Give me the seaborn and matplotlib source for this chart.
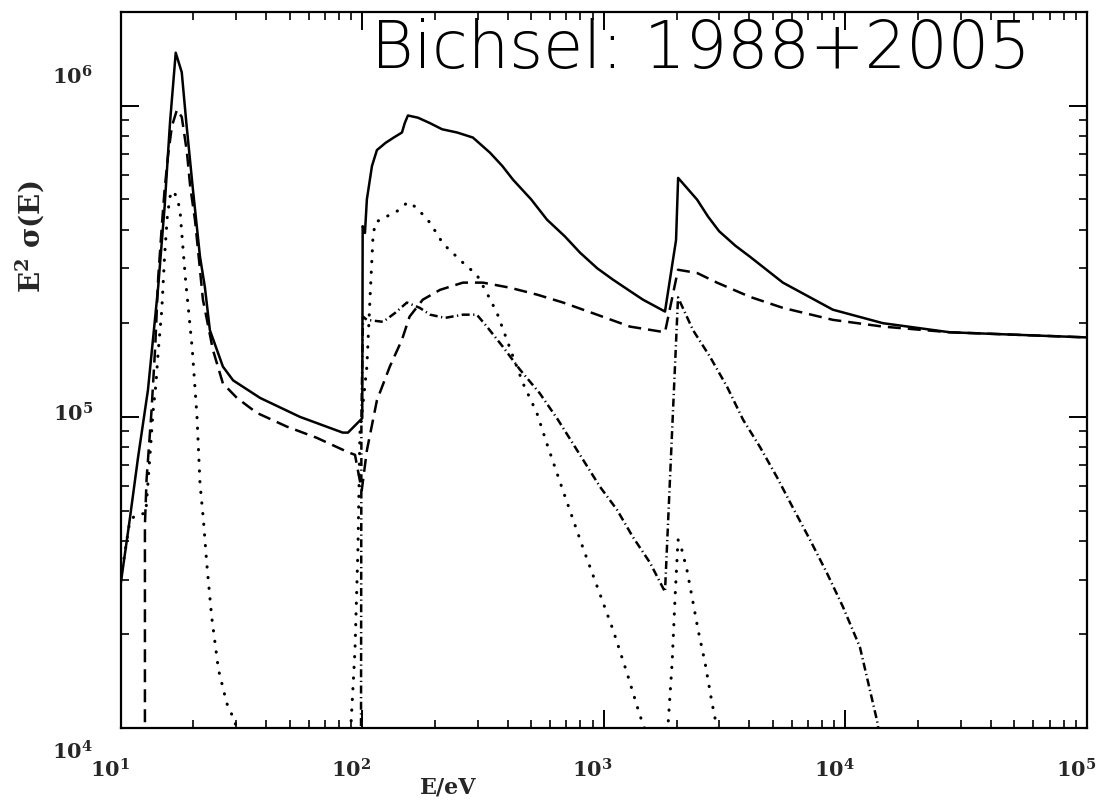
import numpy as np
import pandas as pd
import matplotlib
matplotlib.use('Agg')
import matplotlib.pyplot as plt
import seaborn as sns

# ---- data (E in eV, E^2 sigma(E) arbitrary units) ----
total_e = [10, 10.9, 11.8, 12.97, 14.3, 15.2, 16.0, 16.9, 17.9, 18.7, 19.9, 21.3, 22.3, 23.4,
           26.5, 29.2, 37.8, 55.2, 83, 87.3, 100, 100.4, 102.6, 104.5, 109.7, 115, 125, 135,
           146, 150, 154.5, 170, 190, 214, 247, 287, 338, 380, 421, 500, 582, 690, 797, 940,
           1091, 1270, 1452, 1791, 1990, 2030, 2432, 2700, 3000, 3500, 4027, 5510, 8870,
           14290, 27000, 100000]
total_y = [2.9e4, 4.67e4, 7.4e4, 1.22e5, 2.62e5, 4.73e5, 8.8e5, 1.48e6, 1.28e6, 8.8e5, 5.4e5,
           3.27e5, 2.62e5, 1.9e5, 1.45e5, 1.31e5, 1.15e5, 1.0e5, 8.9e4, 8.9e4, 9.9e4, 4.1e5,
           3.9e5, 5.0e5, 6.4e5, 7.2e5, 7.6e5, 7.9e5, 8.2e5, 8.8e5, 9.3e5, 9.15e5, 8.8e5,
           8.4e5, 8.2e5, 7.9e5, 7.06e5, 6.4e5, 5.78e5, 5.0e5, 4.3e5, 3.8e5, 3.37e5, 3.0e5,
           2.76e5, 2.55e5, 2.38e5, 2.18e5, 3.7e5, 5.86e5, 4.99e5, 4.4e5, 3.95e5, 3.55e5,
           3.27e5, 2.7e5, 2.21e5, 2.0e5, 1.87e5, 1.8e5]

dashed_e = [12.6, 12.6, 12.8, 13.4, 13.9, 14.3, 14.8, 15.2, 15.7, 16.3, 17.1, 17.9, 18.8, 19.4,
            20.3, 21.3, 21.9, 24.1, 26.5, 30.3, 36.6, 48.8, 64.9, 87.3, 93.3, 99.5, 104.5,
            115, 130, 146, 157, 178, 210, 261, 316, 409, 530, 678, 937, 1283, 1791, 2028,
            2432, 2940, 4027, 5510, 8870, 14290, 27000, 100000]
dashed_y = [9e3, 4.5e4, 6.3e4, 1.03e5, 1.68e5, 2.8e5, 4.1e5, 5.37e5, 6.9e5, 8.6e5, 9.7e5,
            9.2e5, 7.1e5, 5.5e5, 4.3e5, 2.97e5, 2.38e5, 1.64e5, 1.28e5, 1.15e5, 1.03e5,
            9.3e4, 8.56e4, 7.7e4, 7.55e4, 5.8e4, 7.8e4, 1.13e5, 1.45e5, 1.77e5, 2.1e5,
            2.38e5, 2.56e5, 2.7e5, 2.7e5, 2.6e5, 2.47e5, 2.33e5, 2.13e5, 1.95e5, 1.87e5,
            2.97e5, 2.9e5, 2.7e5, 2.43e5, 2.24e5, 2.05e5, 1.95e5, 1.87e5, 1.8e5]

dot_m_e = [10, 10.9, 11.5, 12.7, 13.0, 13.3, 13.6, 14.0, 14.3, 14.8, 15.2, 15.6, 16.0, 16.5,
           17.1, 17.6, 17.9, 18.6, 19.0, 19.8, 20.7, 21.3, 22.0, 22.7, 23.8, 25.4, 27.5,
           29.7, 31.0]
dot_m_y = [3.0e4, 4.6e4, 4.84e4, 4.9e4, 6.3e4, 8e4, 1.03e5, 1.28e5, 1.62e5, 2.21e5, 3.3e5,
           4.4e5, 5.1e5, 5.33e5, 5.06e5, 4.63e5, 3.9e5, 2.7e5, 2.29e5, 1.64e5, 1.0e5,
           6.1e4, 4.67e4, 3.4e4, 2.28e4, 1.54e4, 1.2e4, 1.05e4, 9e3]

dot_l_e = [89, 93.3, 96, 97.8, 104.5, 107.6, 110.6, 112.9, 122, 137, 154.5, 168, 191, 216,
           261, 298, 328, 361, 401, 463, 528, 581, 677, 819, 1091, 1248, 1409, 1480]
dot_l_y = [9e3, 1.78e4, 3.8e4, 8.9e4, 1.45e5, 2.38e5, 3.7e5, 4.2e5, 4.36e5, 4.53e5, 4.9e5,
           4.7e5, 4.2e5, 3.6e5, 3.13e5, 2.86e5, 2.5e5, 2.16e5, 1.73e5, 1.28e5, 1.03e5,
           8.2e4, 5.8e4, 3.8e4, 2.07e4, 1.5e4, 1.1e4, 9.9e3]

dot_k_e = [1824, 1917, 1972, 2028, 2105, 2208, 2317, 2454, 2624, 2806, 2940, 3000]
dot_k_y = [9e3, 1.62e4, 2.64e4, 4.03e4, 3.73e4, 3.22e4, 2.64e4, 2.07e4, 1.62e4, 1.2e4,
           1e4, 9e3]

dashdot_e = [98.8, 99.2, 100.7, 104.5, 122, 137, 153, 173, 191, 220, 261, 298, 328, 382,
             449, 543, 645, 745, 964, 1133, 1319, 1552, 1791, 2028, 2339, 2750, 3235, 3767,
             4429, 5207, 6065, 7130, 8380, 9770, 11480, 13500, 14000]
dashdot_y = [9e3, 1.0e5, 2.1e5, 2.05e5, 2.02e5, 2.16e5, 2.33e5, 2.24e5, 2.13e5, 2.08e5,
             2.13e5, 2.13e5, 1.95e5, 1.68e5, 1.42e5, 1.19e5, 9.8e4, 8.2e4, 5.96e4, 5.03e4,
             4.11e4, 3.4e4, 2.74e4, 2.42e5, 1.9e5, 1.56e5, 1.25e5, 9.8e4, 8.0e4, 6.4e4,
             5.1e4, 4.03e4, 3.15e4, 2.45e4, 1.82e4, 1.06e4, 9e3]

x_ticks = [1e1, 1e2, 1e3, 1e4, 1e5]
x_tick_labels = [r'$\mathbf{10^{1}}$', r'$\mathbf{10^{2}}$', r'$\mathbf{10^{3}}$',
                 r'$\mathbf{10^{4}}$', r'$\mathbf{10^{5}}$']
y_ticks = [1e4, 1e5, 1e6]
y_tick_labels = [r'$\mathbf{10^{4}}$', r'$\mathbf{10^{5}}$', r'$\mathbf{10^{6}}$']

sns.set_style('ticks')
plt.rcParams['mathtext.fontset'] = 'dejavuserif'
plt.rcParams['font.family'] = ['DejaVu Serif']

fig = plt.figure(figsize=(10.99, 8.01), dpi=100)
ax = fig.add_axes([0.1098, 0.0911, 0.8793, 0.8939])

dots = dict(linestyle=(0, (0.1, 3.4)), linewidth=2.2, dash_capstyle='round')
curves = [
    (total_e, total_y, dict(linestyle='-', linewidth=1.8)),
    (dashed_e, dashed_y, dict(linestyle=(0, (5.2, 2.8)), linewidth=1.8)),
    (dot_m_e, dot_m_y, dots),
    (dot_l_e, dot_l_y, dots),
    (dot_k_e, dot_k_y, dots),
    (dashdot_e, dashdot_y, dict(linestyle=(0, (3.2, 1.4, 0.5, 1.4)), linewidth=1.8)),
]
for xs, ys, style in curves:
    df = pd.DataFrame({'E': xs, 'S': ys})
    sns.lineplot(data=df, x='E', y='S', ax=ax, sort=False, estimator=None,
                 color='black', **style)

ax.set_xscale('log')
ax.set_yscale('log')
ax.set_xlim(1e1, 1e5)
ax.set_ylim(1e4, 2.0e6)

# ticks inward on all sides, labels drawn separately
ax.tick_params(which='both', direction='in', top=True, right=True,
               labelbottom=False, labelleft=False, color='black')
ax.tick_params(which='major', length=13, width=1.4)
ax.tick_params(which='minor', length=6, width=1.2)
ax.set_xticks(x_ticks)
ax.set_yticks(y_ticks)
for s in ax.spines.values():
    s.set_linewidth(1.6)
    s.set_color('black')
ax.set_xlabel('')
ax.set_ylabel('')

for v, lab in zip(x_ticks, x_tick_labels):
    ax.annotate(lab, xy=(v, 0), xycoords=('data', 'axes fraction'),
                xytext=(-8, -30), textcoords='offset points',
                ha='center', va='center', fontsize=15, annotation_clip=False)

y_offsets = [-17, 2, 21]
for v, lab, dy in zip(y_ticks, y_tick_labels, y_offsets):
    ax.annotate(lab, xy=(0, v), xycoords=('axes fraction', 'data'),
                xytext=(-20, dy), textcoords='offset points',
                ha='right', va='center', fontsize=15, annotation_clip=False)

fig.text(448 / 1099, 1 - 787 / 801, 'E/eV', ha='center', va='center',
         fontsize=16, fontweight='bold')
fig.text(30 / 1099, 1 - 237 / 801, r'E$^{\mathbf{2}}$ σ(E)', ha='center', va='center',
         rotation=90, fontsize=20, fontweight='bold')

ax.text(0.941, 0.922, 'Bichsel: 1988+2005', transform=ax.transAxes,
        ha='right', va='baseline', fontsize=47, family='DejaVu Sans',
        fontweight='ultralight', color='black')

fig.savefig('out.png', dpi=100)
